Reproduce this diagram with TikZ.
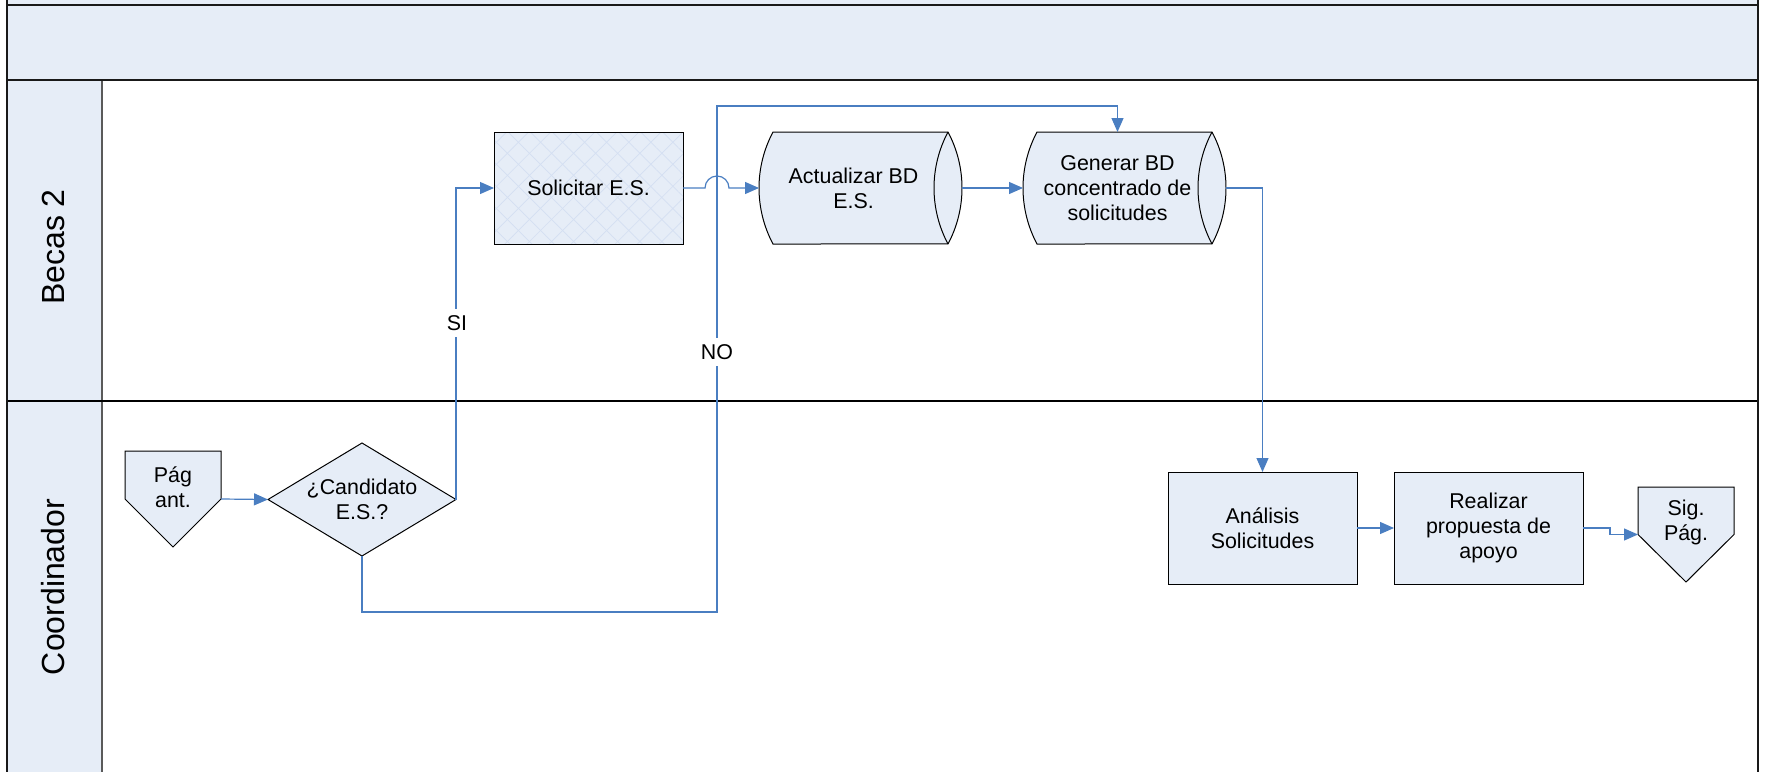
\documentclass[tikz,border=0pt]{standalone}
\usepackage{fontspec}
\setmainfont{Liberation Sans}
\usetikzlibrary{arrows.meta,shapes.geometric,patterns.meta,calc}

\definecolor{lanefill}{RGB}{230,237,247}
\definecolor{flowblue}{RGB}{74,126,193}
\definecolor{hatchblue}{RGB}{212,223,242}
\definecolor{poolline}{RGB}{25,25,25}
\definecolor{colline}{RGB}{90,90,90}

\pgfdeclarelayer{pool}
\pgfdeclarelayer{outline}
\pgfsetlayers{pool,outline,main}

\begin{document}
\begin{tikzpicture}[x=0.5pt,y=-0.5pt,
  font=\fontsize{10.7}{12.5}\selectfont,
  shapeline/.style={draw=black,line width=0.5pt},
  procbox/.style={shapeline,fill=lanefill,rectangle,minimum width=94.5pt,
    minimum height=56pt,inner sep=0pt,outer sep=0pt,align=center},
  dbbox/.style={rectangle,minimum width=94.5pt,minimum height=56pt,
    inner sep=0pt,outer sep=0pt,align=center},
  decbox/.style={rectangle,minimum width=94pt,minimum height=56.5pt,
    inner sep=0pt,outer sep=0pt,align=center},
  offpage/.style={rectangle,minimum width=48pt,minimum height=48pt,
    inner sep=0pt,outer sep=0pt},
  offtext/.style={align=center,inner sep=0pt},
  lanelabel/.style={rotate=90,font=\fontsize{16}{18}\selectfont,inner sep=0pt},
  flow/.style={draw=flowblue,line width=0.6pt,
    -{Triangle[length=7pt,width=6pt]}},
  flowlabel/.style={fill=white,inner xsep=1pt,inner ysep=3pt},
  hatched/.style={
    postaction={pattern={Lines[angle=45,distance=7.8pt,line width=0.35pt]},
      pattern color=hatchblue},
    postaction={pattern={Lines[angle=-45,distance=7.8pt,line width=0.35pt]},
      pattern color=hatchblue},
    postaction={draw=black,line width=0.5pt}}
]
\useasboundingbox (0,0) rectangle (1766,771);

% ---------- pool with header and two lanes ----------
\begin{pgfonlayer}{pool}
  \fill[lanefill] (7,-5) rectangle (1758,80);
  \fill[lanefill] (7,80) rectangle (102,780);
  \draw[colline,line width=0.6pt] (102,80) -- (102,780);
  \draw[black,line width=0.6pt] (7,401) -- (1758,401);
  \draw[poolline,line width=1pt] (7,4.5) -- (1758,4.5);
  \draw[poolline,line width=1pt] (7,80) -- (1758,80);
  \draw[poolline,line width=1.1pt] (7,-5) -- (7,780);
  \draw[poolline,line width=1.1pt] (1758,-5) -- (1758,780);
\end{pgfonlayer}

\node[lanelabel] (laneB) at (53,247) {Becas 2};
\node[lanelabel] (laneC) at (53,587) {Coordinador};

% ---------- lane "Becas 2" ----------
\node[procbox,hatched] (sol) at (588.5,188) {Solicitar E.S.};
\node[dbbox] (act) at (853.5,188) {Actualizar BD\\E.S.};
\node[dbbox] (gen) at (1117.5,188) {Generar BD\\concentrado de\\solicitudes};

% ---------- lane "Coordinador" ----------
\node[offpage] (prev) at (173,499) {};
\node[offtext] (prevtxt) at ([yshift=6pt]prev.center) {Pág\\ant.};
\node[decbox] (dec) at (362,499.5) {¿Candidato\\E.S.?};
\node[procbox] (ana) at (1262.5,528) {Análisis\\Solicitudes};
\node[procbox] (real) at (1488.5,528) {Realizar\\propuesta de\\apoyo};
\node[offpage,minimum height=47.5pt] (next) at (1686,534.5) {};
\node[offtext] (nexttxt) at ([yshift=6pt]next.center) {Sig.\\Pág.};

% ---------- outlines of the stored-data, decision and off-page shapes ----------
% stored data: sides are circular arcs (chord 56pt, bulge 7pt, radius 59.5pt)
\begin{pgfonlayer}{outline}
  \foreach \db in {act,gen}{
    \draw[shapeline,fill=lanefill] ([xshift=7pt]\db.north west) -- (\db.north east)
      arc[start angle=28.07,end angle=-28.07,radius=59.5pt]
      -- ([xshift=7pt]\db.south west)
      arc[start angle=208.07,end angle=151.93,radius=59.5pt] -- cycle;
    \draw[shapeline] (\db.north east)
      arc[start angle=151.93,end angle=208.07,radius=59.5pt];
  }
  \draw[shapeline,fill=lanefill] (dec.north) -- (dec.east) -- (dec.south)
    -- (dec.west) -- cycle;
  \foreach \op in {prev,next}{
    \draw[shapeline,fill=lanefill] (\op.north west) -- (\op.north east)
      -- (\op.east) -- (\op.south) -- (\op.west) -- cycle;
  }
\end{pgfonlayer}

% ---------- connectors ----------
\draw[flow] (prev.east) -- (dec.west);
\draw[flow] (dec.east) |- (sol.west);
\draw[flow] (dec.south) |- (717,612) -- (717,106) -| (gen.north);
\draw[flow] (sol.east) -- (705,188)
  arc[start angle=180,end angle=0,radius=6pt] -- (act.west);
\draw[flow] ([xshift=7pt]act.east) -- (gen.west);
\draw[flow] ([xshift=7pt]gen.east) -| (ana.north);
\draw[flow] (ana.east) -- (real.west);
\draw[flow] (real.east) -- ++(27,0) |- (next.west);

\node[flowlabel] (si) at (457,323) {SI};
\node[flowlabel] (no) at (717,352) {NO};

\end{tikzpicture}
\end{document}
